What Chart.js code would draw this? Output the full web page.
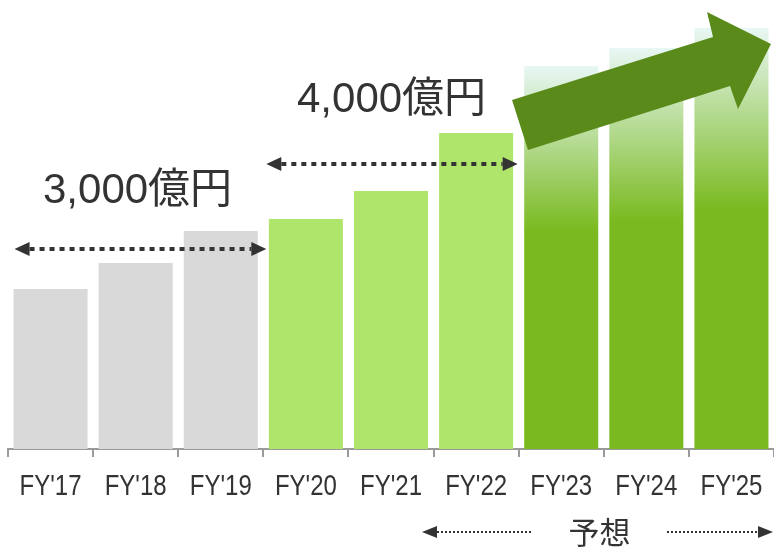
<!DOCTYPE html>
<html lang="ja">
<head>
<meta charset="utf-8">
<title>FY'17 - FY'25</title>
<script src="https://cdn.jsdelivr.net/npm/chart.js@4.4.1/dist/chart.umd.min.js"></script>
<style>
  html, body { margin: 0; padding: 0; background: #ffffff; }
  #wrap { position: relative; width: 774px; height: 549px; }
</style>
</head>
<body>
<div id="wrap"><canvas id="salesChart"></canvas></div>
<script>
// Data
const fiscalYears = ["FY'17", "FY'18", "FY'19", "FY'20", "FY'21", "FY'22", "FY'23", "FY'24", "FY'25"];
const barHeights = [160, 186, 218, 230, 258, 316, 383, 401, 421];
const barGroups = ["past", "past", "past", "recent", "recent", "recent", "forecast", "forecast", "forecast"];

// Labels
const rangeLabels = ["3,000億円", "4,000億円"];
const forecastLabel = "予想";

// Colors
const textColor = "#333333";
const grayColor = "#d9d9d9";
const lightGreen = "#b0e56b";
const darkGreen = "#7aba20";
const mintTop = "#e8f7f4";
const arrowGreen = "#5a8b1a";

const canvas = document.getElementById("salesChart");

// Function to pick a bar fill (gradient for forecast years)
function getBarColor(context) {
  const group = barGroups[context.dataIndex];
  if (group === "past") return grayColor;
  if (group === "recent") return lightGreen;
  const chart = context.chart;
  const yScale = chart.scales.y;
  if (!yScale) return darkGreen;
  const top = yScale.getPixelForValue(barHeights[context.dataIndex]);
  const base = yScale.getPixelForValue(0);
  const gradient = chart.ctx.createLinearGradient(0, top, 0, base);
  gradient.addColorStop(0, mintTop);
  gradient.addColorStop(0.43, darkGreen);
  gradient.addColorStop(1, darkGreen);
  return gradient;
}

// Function to draw a dotted line with arrow heads
function drawDottedArrow(ctx, x1, x2, y, opts) {
  const { lineWidth, dash, headLen, headHalf, left, right } = opts;
  ctx.save();
  ctx.strokeStyle = textColor;
  ctx.fillStyle = textColor;
  ctx.lineWidth = lineWidth;
  ctx.setLineDash(dash);
  ctx.beginPath();
  ctx.moveTo(left ? x1 + headLen : x1, y);
  ctx.lineTo(right ? x2 - headLen : x2, y);
  ctx.stroke();
  ctx.setLineDash([]);
  if (left) {
    ctx.beginPath();
    ctx.moveTo(x1, y);
    ctx.lineTo(x1 + headLen, y - headHalf);
    ctx.lineTo(x1 + headLen, y + headHalf);
    ctx.closePath();
    ctx.fill();
  }
  if (right) {
    ctx.beginPath();
    ctx.moveTo(x2, y);
    ctx.lineTo(x2 - headLen, y - headHalf);
    ctx.lineTo(x2 - headLen, y + headHalf);
    ctx.closePath();
    ctx.fill();
  }
  ctx.restore();
}

// Plugin for the range arrows, labels and the big growth arrow
const decorations = {
  id: "decorations",
  afterDatasetsDraw(chart) {
    const ctx = chart.ctx;
    const x = chart.scales.x;
    const y = chart.scales.y;
    const area = chart.chartArea;
    const edge = (i) => (x.getPixelForTick(i) + x.getPixelForTick(i + 1)) / 2;
    const bigArrow = { lineWidth: 4, dash: [5, 5], headLen: 15, headHalf: 7, left: true, right: true };

    // 3,000 range (FY'17 - FY'19)
    drawDottedArrow(ctx, x.getPixelForTick(0) - 36, edge(2) + 3, y.getPixelForValue(200), bigArrow);
    // 4,000 range (FY'20 - FY'22)
    drawDottedArrow(ctx, edge(2) + 3, edge(5) - 1, y.getPixelForValue(285), bigArrow);

    ctx.save();
    ctx.fillStyle = textColor;
    ctx.font = '42px "Liberation Sans", Arial, "Noto Sans CJK JP", sans-serif';
    ctx.textBaseline = "alphabetic";
    ctx.textAlign = "left";
    ctx.fillText(rangeLabels[0], 43, y.getPixelForValue(246));
    ctx.fillText(rangeLabels[1], 297, y.getPixelForValue(337));
    ctx.restore();

    // growth arrow over the forecast bars
    const pts = [[512, 100], [713, 37], [707, 12], [771, 44], [738, 109], [730, 86], [528, 150]];
    ctx.save();
    ctx.fillStyle = arrowGreen;
    ctx.beginPath();
    pts.forEach(([px, py], i) => {
      const cx = area.left + px - 8;
      const cy = area.top + py;
      if (i === 0) ctx.moveTo(cx, cy);
      else ctx.lineTo(cx, cy);
    });
    ctx.closePath();
    ctx.fill();
    ctx.restore();
  },
  afterDraw(chart) {
    const ctx = chart.ctx;
    const x = chart.scales.x;
    const area = chart.chartArea;

    // condensed category labels under each tick
    ctx.save();
    ctx.fillStyle = textColor;
    ctx.font = '30px "Liberation Sans", Arial, sans-serif';
    ctx.textAlign = "center";
    ctx.textBaseline = "alphabetic";
    fiscalYears.forEach((label, i) => {
      const cx = x.getPixelForTick(i);
      ctx.save();
      ctx.translate(cx, area.bottom + 46);
      ctx.scale(0.8, 1);
      ctx.fillText(label, 0, 0);
      ctx.restore();
    });
    ctx.restore();

    // forecast marker
    const labelY = chart.height - 17;
    const small = { lineWidth: 2, dash: [2, 2], headLen: 15, headHalf: 6 };
    drawDottedArrow(ctx, 422, 532, labelY, { ...small, left: true, right: false });
    drawDottedArrow(ctx, 667, 773, labelY, { ...small, left: false, right: true });

    ctx.save();
    ctx.fillStyle = textColor;
    ctx.font = '31px "Noto Sans CJK JP", sans-serif';
    ctx.textAlign = "center";
    ctx.textBaseline = "middle";
    ctx.fillText(forecastLabel, 599.5, labelY);
    ctx.restore();
  },
};

const salesChart = new Chart(canvas, {
  type: "bar",
  data: {
    labels: fiscalYears,
    datasets: [
      {
        label: "売上",
        data: barHeights,
        backgroundColor: getBarColor,
        borderWidth: 0,
        barPercentage: 0.87,
        categoryPercentage: 1.0,
      },
    ],
  },
  options: {
    responsive: true,
    maintainAspectRatio: false,
    animation: false,
    layout: {
      padding: { left: 8, right: 0, top: 0, bottom: 92 },
    },
    plugins: {
      legend: { display: false },
      tooltip: { enabled: false },
    },
    scales: {
      x: {
        grid: {
          display: true,
          drawOnChartArea: false,
          drawTicks: true,
          tickLength: 8,
          color: "#9a9a9a",
          lineWidth: 2,
        },
        border: { display: true, color: "#9a9a9a", width: 2 },
        ticks: { display: false },
      },
      y: {
        display: false,
        min: 0,
        max: 449,
      },
    },
  },
  plugins: [decorations],
});
</script>
</body>
</html>
